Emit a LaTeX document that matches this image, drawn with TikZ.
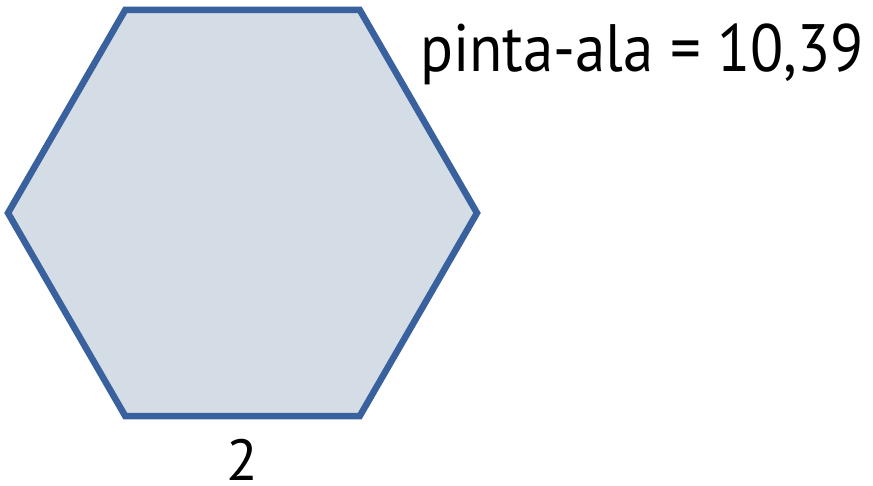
\documentclass[tikz,border=0pt]{standalone}
\usepackage{fontspec}
\setmainfont{PT Sans}
\newfontfamily\narrowfont[FakeStretch=0.91]{PT Sans}
\usepackage{tikz}
\usetikzlibrary{positioning, calc}
\definecolor{hexblue}{RGB}{57, 97, 158}
\definecolor{hexfill}{RGB}{212, 220, 229}

\begin{document}
\begin{tikzpicture}[x=1pt, y=-1pt, every node/.style={inner sep=0pt, text=black}]
        \useasboundingbox (0,0) rectangle (873,486);
        \coordinate (c) at (242.5,213);
        \draw[hexblue, line width=6.5pt, fill=hexfill, line join=miter]
            ($(c)+(0:234.5)$) \foreach \a in {60,120,...,300} {-- ($(c)+(\a:234.5)$)} -- cycle;
        \node[anchor=base west, font=\narrowfont\fontsize{67}{67}\selectfont] (area) at (420,72) {pinta-ala = 10,39};
        \node[anchor=base, font=\fontsize{58}{58}\selectfont] (side) at (242.5,480) {2};
    \end{tikzpicture}
\end{document}
